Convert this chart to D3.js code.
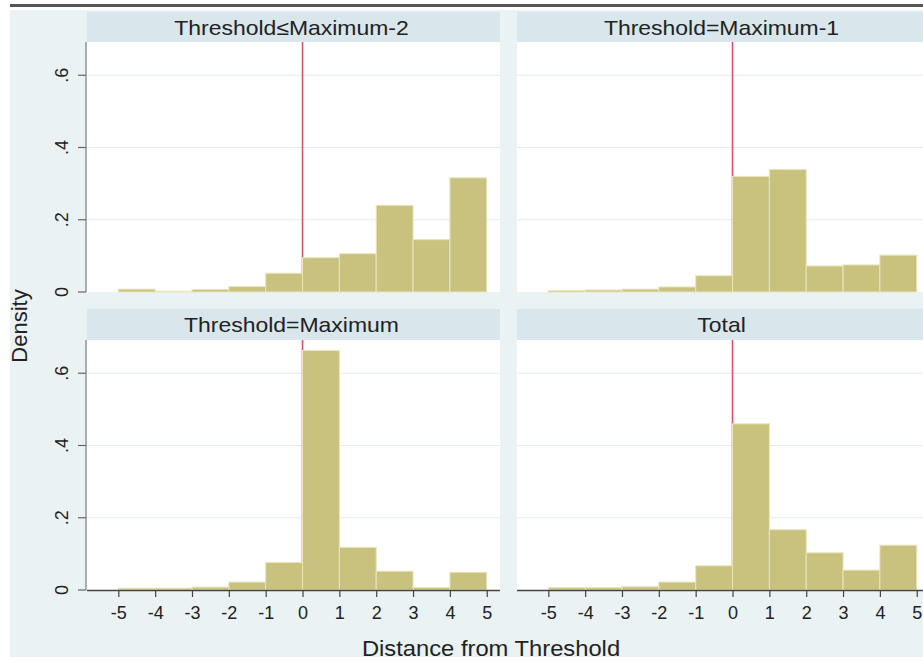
<!DOCTYPE html>
<html><head><meta charset="utf-8">
<script src="https://cdn.jsdelivr.net/npm/d3@7"></script>
<style>
html,body{margin:0;padding:0;background:#fff;}
svg{display:block;font-family:"Liberation Sans",Arial,sans-serif;}
</style></head>
<body><svg id="chart" width="923" height="662"></svg>
<script>
const binStarts = [-5,-4,-3,-2,-1,0,1,2,3,4];
const panelTitles = ["Threshold\u2264Maximum-2","Threshold=Maximum-1","Threshold=Maximum","Total"];
const densLeMax2 = [0.008,0.002,0.007,0.015,0.052,0.095,0.106,0.240,0.145,0.316];
const densMax1   = [0.004,0.0055,0.008,0.014,0.045,0.320,0.339,0.072,0.075,0.102];
const densMax    = [0.005,0.005,0.008,0.022,0.076,0.663,0.118,0.052,0.007,0.049];
const densTotal  = [0.0065,0.0065,0.009,0.022,0.067,0.460,0.167,0.103,0.055,0.124];
const xTicks = [-5,-4,-3,-2,-1,0,1,2,3,4,5];
const yTicks = [0,0.2,0.4,0.6];
const yTickLabels = ["0",".2",".4",".6"];
const xTitle = "Distance from Threshold";
const yTitle = "Density";

const svg = d3.select("#chart");
svg.append("rect").attr("x",10).attr("y",10).attr("width",913).attr("height",647).attr("fill","#eaf2f4");
svg.append("rect").attr("x",10).attr("y",4).attr("width",913).attr("height",3).attr("fill","#555");

const panels = [
  {title:panelTitles[0], data:densLeMax2, x0:87, y0:42, hy:12, left:true, bottom:false},
  {title:panelTitles[1], data:densMax1, x0:517, y0:42, hy:12, left:false, bottom:false},
  {title:panelTitles[2], data:densMax, x0:87, y0:340, hy:309, left:true, bottom:true},
  {title:panelTitles[3], data:densTotal, x0:517, y0:340, hy:309, left:false, bottom:true}
];
const pw = 413, ph = 250;

panels.forEach(p=>{
  const g = svg.append("g");
  const x = d3.scaleLinear().domain([-5.85,5.36]).range([p.x0,p.x0+pw]);
  const y = d3.scaleLinear().domain([0,0.692]).range([p.y0+ph,p.y0]);
  g.append("rect").attr("x",p.x0).attr("y",p.hy).attr("width",pw).attr("height",p.y0-p.hy).attr("fill","#d9e6ec");
  g.append("text").attr("transform",`translate(${p.x0+pw/2-2},${p.hy+23}) scale(1.12,1)`).attr("text-anchor","middle")
    .attr("font-size",20.5).attr("fill","#222").text(p.title);
  g.append("rect").attr("x",p.x0).attr("y",p.y0).attr("width",pw).attr("height",ph).attr("fill","#fff");
  g.selectAll(".grid").data(yTicks.slice(1)).enter().append("line")
    .attr("x1",p.x0).attr("x2",p.x0+pw).attr("y1",d=>y(d)).attr("y2",d=>y(d))
    .attr("stroke","#e2ecef").attr("stroke-width",1.2);
  g.append("line").attr("x1",x(0)).attr("x2",x(0)).attr("y1",p.y0).attr("y2",y(0))
    .attr("stroke","#d9506a").attr("stroke-width",1.6);
  g.selectAll(".bar").data(p.data.map((v,i)=>({s:binStarts[i],v}))).enter().append("rect")
    .attr("x",d=>x(d.s)).attr("width",d=>x(d.s+1)-x(d.s))
    .attr("y",d=>y(d.v)).attr("height",d=>y(0)-y(d.v))
    .attr("fill","#c9c27e").attr("stroke","#e9e5bd").attr("stroke-width",1);
  if(p.left){
    g.append("line").attr("x1",p.x0-1).attr("x2",p.x0-1).attr("y1",p.y0).attr("y2",p.y0+ph)
      .attr("stroke","#888").attr("stroke-width",1.3);
    yTicks.forEach((t,i)=>{
      g.append("line").attr("x1",p.x0-9).attr("x2",p.x0-1).attr("y1",y(t)).attr("y2",y(t))
        .attr("stroke","#666").attr("stroke-width",1.2);
      g.append("text").attr("transform",`translate(${p.x0-19},${y(t)}) rotate(-90)`)
        .attr("text-anchor","middle").attr("font-size",18).attr("fill","#222").text(yTickLabels[i]);
    });
  }
  if(p.bottom){
    const ax = g.append("g").attr("transform",`translate(0,${p.y0+ph})`)
      .call(d3.axisBottom(x).tickValues(xTicks).tickSize(7).tickPadding(9).tickFormat(d3.format("d")));
    ax.select(".domain").attr("d",`M${p.x0},0.5H${p.x0+pw}`).attr("stroke","#444").attr("stroke-width",1.3);
    ax.selectAll(".tick line").attr("stroke","#444").attr("stroke-width",1.2);
    ax.selectAll(".tick text").attr("font-size",18).attr("fill","#222")
      .attr("font-family","Liberation Sans, Arial, sans-serif")
      .text(d=>d<0 ? "-"+Math.abs(d) : String(d));
  }
});

svg.append("text").attr("transform","translate(491,656) scale(1.08,1)").attr("text-anchor","middle")
  .attr("font-size",22).attr("fill","#222").text(xTitle);
svg.append("text").attr("transform","translate(27,326) rotate(-90)").attr("text-anchor","middle")
  .attr("font-size",22).attr("fill","#222").text(yTitle);
</script></body></html>
